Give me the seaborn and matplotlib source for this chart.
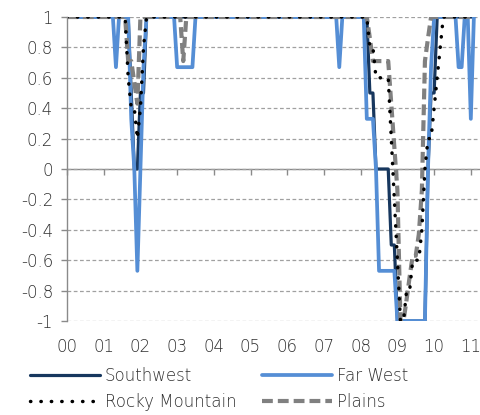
import numpy as np
import pandas as pd
import matplotlib
matplotlib.use("Agg")
import matplotlib.pyplot as plt
import seaborn as sns

# monthly values, Jan 2000 .. Feb 2011, one row per year
year_labels = ['00', '01', '02', '03', '04', '05', '06', '07', '08', '09', '10', '11']
y_ticks = [-1, -0.8, -0.6, -0.4, -0.2, 0, 0.2, 0.4, 0.6, 0.8, 1]

southwest = [
    1, 1, 1, 1, 1, 1, 1, 1, 1, 1, 1, 1,
    1, 1, 1, 1, 1, 1, 1, 1, 1, 0.5, 0, 0,
    0.5, 0.5, 1, 1, 1, 1, 1, 1, 1, 1, 1, 1,
    1, 1, 1, 1, 1, 1, 1, 1, 1, 1, 1, 1,
    1, 1, 1, 1, 1, 1, 1, 1, 1, 1, 1, 1,
    1, 1, 1, 1, 1, 1, 1, 1, 1, 1, 1, 1,
    1, 1, 1, 1, 1, 1, 1, 1, 1, 1, 1, 1,
    1, 1, 1, 1, 1, 1, 1, 1, 1, 1, 1, 1,
    1, 1, 1, 0.5, 0.5, 0, 0, 0, 0, 0, -0.5, -0.5,
    -1, -1, -1, -1, -1, -1, -1, -1, -1, -1, 0, 0.5,
    0.5, 1, 1, 1, 1, 1, 1, 1, 1, 1, 1, 1,
    1, 1,
]
far_west = [
    1, 1, 1, 1, 1, 1, 1, 1, 1, 1, 1, 1,
    1, 1, 1, 1, 0.67, 1, 1, 1, 1, 0.33, 0, -0.67,
    0, 0.67, 1, 1, 1, 1, 1, 1, 1, 1, 1, 1,
    0.67, 0.67, 0.67, 0.67, 0.67, 0.67, 1, 1, 1, 1, 1, 1,
    1, 1, 1, 1, 1, 1, 1, 1, 1, 1, 1, 1,
    1, 1, 1, 1, 1, 1, 1, 1, 1, 1, 1, 1,
    1, 1, 1, 1, 1, 1, 1, 1, 1, 1, 1, 1,
    1, 1, 1, 1, 1, 0.67, 1, 1, 1, 1, 1, 1,
    1, 1, 0.33, 0.33, 0.33, 0, -0.67, -0.67, -0.67, -0.67, -0.67, -0.67,
    -1, -1, -1, -1, -1, -1, -1, -1, -1, -1, 0, 0.67,
    1, 1, 1, 1, 1, 1, 1, 1, 0.67, 0.67, 1, 1,
    0.33, 1,
]
rocky_mountain = [
    1, 1, 1, 1, 1, 1, 1, 1, 1, 1, 1, 1,
    1, 1, 1, 1, 1, 1, 1, 1, 0.6, 0.4, 0.4, 0.2,
    0.4, 0.8, 1, 1, 1, 1, 1, 1, 1, 1, 1, 1,
    1, 1, 1, 1, 1, 1, 1, 1, 1, 1, 1, 1,
    1, 1, 1, 1, 1, 1, 1, 1, 1, 1, 1, 1,
    1, 1, 1, 1, 1, 1, 1, 1, 1, 1, 1, 1,
    1, 1, 1, 1, 1, 1, 1, 1, 1, 1, 1, 1,
    1, 1, 1, 1, 1, 1, 1, 1, 1, 1, 1, 1,
    1, 1, 1, 0.8, 0.8, 0.6, 0.6, 0.6, 0.6, 0.6, 0.2, -0.2,
    -0.6, -1, -1, -0.8, -0.8, -0.6, -0.6, -0.6, -0.4, 0, 0.2, 0.2,
    0.4, 0.6, 0.8, 1, 1, 1, 1, 1, 1, 1, 1, 1,
    1, 1,
]
plains = [
    1, 1, 1, 1, 1, 1, 1, 1, 1, 1, 1, 1,
    1, 1, 1, 1, 1, 1, 1, 1, 0.71, 0.71, 0.57, 0.43,
    1, 1, 1, 1, 1, 1, 1, 1, 1, 1, 1, 1,
    1, 1, 0.71, 1, 1, 1, 1, 1, 1, 1, 1, 1,
    1, 1, 1, 1, 1, 1, 1, 1, 1, 1, 1, 1,
    1, 1, 1, 1, 1, 1, 1, 1, 1, 1, 1, 1,
    1, 1, 1, 1, 1, 1, 1, 1, 1, 1, 1, 1,
    1, 1, 1, 1, 1, 1, 1, 1, 1, 1, 1, 1,
    1, 1, 1, 0.86, 0.71, 0.71, 0.71, 0.71, 0.71, 0.71, 0.43, 0.14,
    -0.14, -1, -1, -0.86, -0.71, -0.57, -0.57, -0.43, -0.14, 0.71, 0.86, 1,
    1, 1, 1, 1, 1, 1, 1, 1, 1, 1, 1, 1,
    1, 1,
]

sns.set_theme(style='white')
plt.rcParams['font.family'] = ['DejaVu Sans']
plt.rcParams['font.weight'] = 'light'

df = pd.DataFrame({
    'month': np.arange(len(southwest)),
    'Southwest': southwest,
    'Far West': far_west,
    'Rocky Mountain': rocky_mountain,
    'Plains': plains,
})

axis_grey = '#8a8a8a'
text_col = '#303030'

fig = plt.figure(figsize=(4.8, 4.15), dpi=100)
ax = fig.add_axes([67 / 480, 1 - 321 / 415, 1 - 67 / 480, 304 / 415])

styles = {
    'Southwest': dict(color='#17375E', lw=2.3, zorder=2.0),
    'Far West': dict(color='#558ED5', lw=2.7, zorder=2.1),
    'Plains': dict(color='#808080', lw=3.0, zorder=2.2),
    'Rocky Mountain': dict(color='black', lw=2.5, zorder=2.3),
}
lines = {}
for name, st in styles.items():
    sns.lineplot(data=df, x='month', y=name, ax=ax, estimator=None, **st)
    lines[name] = ax.lines[-1]

lines['Plains'].set_linestyle((0, (2.6, 1.2)))
lines['Rocky Mountain'].set_linestyle((0, (0.1, 2.9)))
lines['Rocky Mountain'].set_dash_capstyle('round')

ax.set_xlim(0, 135)
ax.set_ylim(-1, 1)
ax.set_xlabel('')
ax.set_ylabel('')

ax.set_yticks(y_ticks)
ax.set_yticklabels([f'{v:g}' for v in y_ticks])
ax.yaxis.grid(True, linestyle=(0, (3, 2)), color='#a0a0a0', lw=0.9)
ax.set_axisbelow(True)

year_pos = [12 * i for i in range(len(year_labels))]
ax.set_xticks(year_pos)
ax.set_xticklabels(year_labels)

for side in ['top', 'right', 'bottom']:
    ax.spines[side].set_visible(False)
ax.spines['left'].set_color(axis_grey)
ax.spines['left'].set_linewidth(1.0)
ax.tick_params(axis='y', direction='out', length=4, width=1, color=axis_grey,
               pad=6, labelsize=12, labelcolor=text_col, left=True)
ax.tick_params(axis='x', length=0, pad=12, labelsize=12, labelcolor=text_col)

# zero line with year ticks
zero_axis = ax.secondary_xaxis(0.5)
zero_axis.set_alignment('bottom')
zero_axis.set_xticks(year_pos)
zero_axis.tick_params(axis='x', direction='out', length=4, width=1, color=axis_grey,
                      labelbottom=False, labeltop=False)
zero_axis.spines['bottom'].set_color(axis_grey)
zero_axis.spines['bottom'].set_linewidth(1.0)

order = ['Southwest', 'Rocky Mountain', 'Far West', 'Plains']
fig.legend([lines[n] for n in order], order, loc='upper left',
           bbox_to_anchor=(0.0625, 1 - 367 / 415), bbox_transform=fig.transFigure,
           ncol=2, frameon=False, fontsize=12, handlelength=4.2, handletextpad=0.3,
           columnspacing=1.5, labelspacing=0.45, borderpad=0, borderaxespad=0,
           labelcolor=text_col)

fig.savefig('out.png', dpi=100)
